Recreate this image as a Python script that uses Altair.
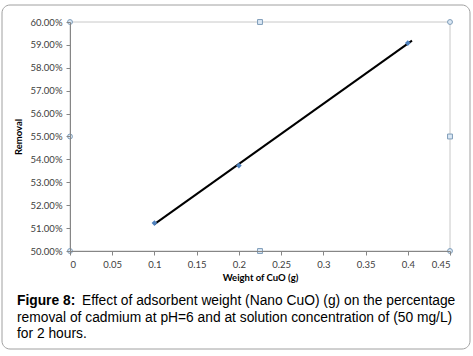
import altair as alt
import pandas as pd

# data
weights = [0.1, 0.2, 0.4]
removal = [0.5122, 0.5373, 0.5908]
trend_extent = [0.1, 0.405]

x_ticks = [0, 0.05, 0.1, 0.15, 0.2, 0.25, 0.3, 0.35, 0.4, 0.45]
y_ticks = [0.50, 0.51, 0.52, 0.53, 0.54, 0.55, 0.56, 0.57, 0.58, 0.59, 0.60]

# plot-area selection handles (Excel style) in data units
handle_x = [0, 0, 0, 0.225, 0.45, 0.45, 0.45, 0.225]
handle_y = [0.60, 0.55, 0.50, 0.50, 0.50, 0.55, 0.60, 0.60]
handle_shape = ["circle", "circle", "circle", "square", "circle", "square", "circle", "square"]

caption_bold = "Figure 8:"
caption_lines = [
    "Effect of adsorbent weight (Nano CuO) (g) on the percentage",
    "removal of cadmium at pH=6 and at solution concentration of (50 mg/L)",
    "for 2 hours.",
]

W, H = 380, 229

df = pd.DataFrame({"w": weights, "r": removal})
hdf = pd.DataFrame({"x": handle_x, "y": handle_y, "s": handle_shape})

xs = alt.Scale(domain=[0, 0.45], nice=False, zero=False)
ys = alt.Scale(domain=[0.50, 0.60], nice=False, zero=False)

xax = alt.Axis(values=x_ticks, title="Weight of CuO (g)",
               labelExpr="datum.value == 0 ? '0' : format(datum.value, '.2~f')",
               grid=False, domainColor="#868686", tickColor="#868686", tickSize=4, zindex=1,
               labelOverlap=False,
               labelFont="Lato", labelFontSize=9.5, labelColor="#404040", labelPadding=4,
               titleFont="Lato", titleFontSize=9.5, titleFontWeight="bold", titleColor="#000000", titlePadding=4)
yax = alt.Axis(values=y_ticks, title="Removal", format=".2%",
               grid=False, domainColor="#868686", tickColor="#868686", tickSize=4, zindex=1,
               labelOverlap=False,
               labelFont="Lato", labelFontSize=9.5, labelColor="#404040", labelPadding=4,
               titleFont="Lato", titleFontSize=9.5, titleFontWeight="bold", titleColor="#000000", titlePadding=7)

frame = alt.Chart(pd.DataFrame({"a": [0]})).mark_rect(
    fill="white", stroke="#a0a0a0", strokeWidth=1, cornerRadius=8
).encode(x=alt.value(-68), x2=alt.value(400), y=alt.value(-17), y2=alt.value(327))

plotborder = alt.Chart(pd.DataFrame({"a": [0]})).mark_rect(
    fill="white", fillOpacity=0, stroke="#c8c8c8", strokeWidth=1
).encode(x=alt.value(0), x2=alt.value(W), y=alt.value(0), y2=alt.value(H))

base = alt.Chart(df)

trend = base.transform_regression("w", "r", extent=trend_extent).mark_line(
    color="#000000", strokeWidth=2
).encode(x=alt.X("w:Q", scale=xs, axis=xax), y=alt.Y("r:Q", scale=ys, axis=yax))

pts = base.mark_point(shape="diamond", filled=True, size=32, color="#4f81bd", opacity=1).encode(
    x=alt.X("w:Q", scale=xs, axis=xax), y=alt.Y("r:Q", scale=ys, axis=yax)
)

handles = alt.Chart(hdf).mark_point(filled=True, size=24, fill="#dbe8f5", stroke="#7f9db9",
                                    strokeWidth=1, opacity=1).encode(
    x=alt.X("x:Q", scale=xs, axis=xax), y=alt.Y("y:Q", scale=ys, axis=yax),
    shape=alt.Shape("s:N", scale=None, legend=None)
)

cap_bold = alt.Chart(pd.DataFrame({"t": [caption_bold]})).mark_text(
    align="left", baseline="middle", font="Liberation Sans", fontSize=13.8, fontWeight="bold", color="#000000"
).encode(x=alt.value(-53), y=alt.value(279), text="t:N")
cap_df = pd.DataFrame({"t": caption_lines, "i": [0, 1, 2]})
cap = alt.Chart(cap_df).transform_calculate(
    px="datum.i == 0 ? 12 : -53", py="279 + datum.i * 16.5"
).mark_text(
    align="left", baseline="middle", font="Liberation Sans", fontSize=13.8, color="#000000"
).encode(x=alt.X("px:Q", scale=None, axis=None), y=alt.Y("py:Q", scale=None, axis=None), text="t:N")

chart = alt.layer(frame, plotborder, trend, pts, handles, cap_bold, cap).properties(
    width=W, height=H,
    padding={"left": 70, "top": 22, "right": 23, "bottom": 105},
    autosize=alt.AutoSizeParams(type="none"),
    background="white",
).configure_view(stroke=None)

chart.save("out.html", embed_options={"renderer": "svg", "actions": False})
